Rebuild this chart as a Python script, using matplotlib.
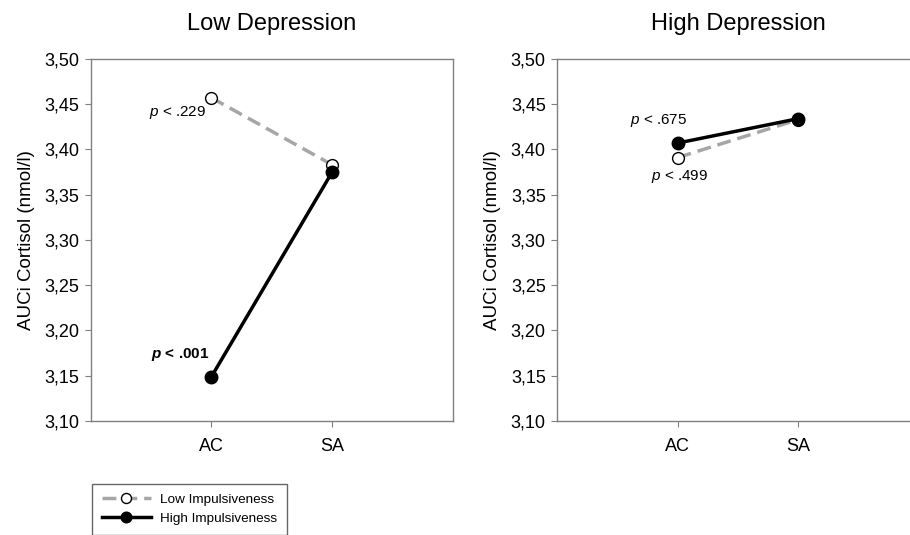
import matplotlib
matplotlib.use('Agg')
import matplotlib.pyplot as plt
from matplotlib.ticker import FuncFormatter

# 数据
conditions = ['AC', 'SA']
panels = ['Low Depression', 'High Depression']
low_imp = [[3.457, 3.383], [3.391, 3.433]]
high_imp = [[3.149, 3.375], [3.407, 3.434]]
p_labels = [[r'$\mathit{p}$ < .229', r'$\mathbfit{p}$ < .001'],
            [r'$\mathit{p}$ < .499', r'$\mathit{p}$ < .675']]
p_bold = [[False, True], [False, False]]

plt.rcParams['font.family'] = ['Liberation Sans', 'DejaVu Sans']
plt.rcParams['mathtext.fontset'] = 'custom'
plt.rcParams['mathtext.rm'] = 'Liberation Sans'
plt.rcParams['mathtext.it'] = 'Liberation Sans:italic'
plt.rcParams['mathtext.bf'] = 'Liberation Sans:bold'
plt.rcParams['mathtext.bfit'] = 'Liberation Sans:bold:italic'

fig = plt.figure(figsize=(9.1, 5.35), dpi=100)
ax_pos = [[0.0997, 0.213, 0.398, 0.677], [0.612, 0.213, 0.398, 0.677]]
spine_col = '#808080'

# 注释位置 (x, y, ha)
text_pos = [[(0.96, 3.441, 'right'), (0.985, 3.173, 'right')],
            [(0.777, 3.3696, 'left'), (0.603, 3.4315, 'left')]]

x = [1, 2]
handles = None
for i in range(2):
    ax = fig.add_axes(ax_pos[i])
    l1, = ax.plot(x, low_imp[i], color='#a6a6a6', linestyle='--', dashes=(4, 2),
                  linewidth=2.5, marker='o', markersize=8.5,
                  markerfacecolor='white', markeredgecolor='black',
                  markeredgewidth=1.0, label='Low Impulsiveness', zorder=3)
    l2, = ax.plot(x, high_imp[i], color='black', linestyle='-', linewidth=2.5,
                  marker='o', markersize=9, markerfacecolor='black',
                  markeredgecolor='black', label='High Impulsiveness', zorder=4)
    handles = [l1, l2]
    ax.set_xlim(0, 3)
    ax.set_ylim(3.10, 3.50)
    ax.set_yticks([3.10 + 0.05 * k for k in range(9)])
    ax.yaxis.set_major_formatter(FuncFormatter(lambda v, pos: f'{v:.2f}'.replace('.', ',')))
    ax.set_xticks(x)
    ax.set_xticklabels(conditions)
    for s in ax.spines.values():
        s.set_color(spine_col)
        s.set_linewidth(1.0)
    ax.tick_params(direction='out', length=4, color=spine_col, labelsize=13, pad=4)
    ax.tick_params(axis='x', pad=8)
    ax.set_ylabel('AUCi Cortisol (nmol/l)', fontsize=13.5, labelpad=7)
    ax.set_title(panels[i], fontsize=17, pad=21)
    for j in range(2):
        tx, ty, ha = text_pos[i][j]
        ax.text(tx, ty, p_labels[i][j], ha=ha, va='center', fontsize=11,
                fontweight='bold' if p_bold[i][j] else 'normal')

leg = fig.legend(handles=handles, loc='upper left', bbox_to_anchor=(0.101, 0.096),
                 fontsize=9.7, frameon=True, fancybox=False, handlelength=3.6,
                 borderpad=0.75, labelspacing=0.45, handletextpad=0.7,
                 borderaxespad=0, markerscale=0.85)
leg.get_frame().set_edgecolor('#404040')
leg.get_frame().set_linewidth(1.0)

fig.savefig('out.png', dpi=100)
